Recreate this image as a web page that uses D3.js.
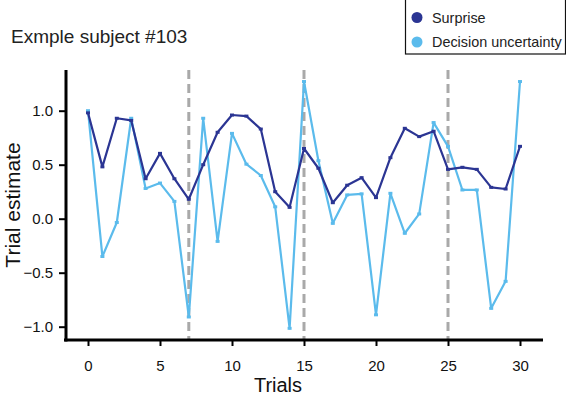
<!DOCTYPE html>
<html lang="en">
<head>
  <meta charset="UTF-8">
  <title>Exmple subject #103</title>
  <script src="https://d3js.org/d3.v7.min.js"></script>
  <style>
    body { margin: 0; background: #fff; }
    svg { display: block; font-family: "Liberation Sans", Arial, sans-serif; }
  </style>
</head>
<body>
  <svg width="566" height="398"></svg>
  <script>
    const trials = d3.range(0, 31);
    const surprise = [0.98, 0.48, 0.93, 0.91, 0.37, 0.605, 0.37, 0.18, 0.50, 0.80,
      0.96, 0.95, 0.83, 0.25, 0.105, 0.65, 0.467, 0.148, 0.31, 0.38,
      0.195, 0.565, 0.837, 0.76, 0.81, 0.457, 0.476, 0.457, 0.29, 0.275, 0.67];
    const uncertainty = [1.0, -0.35, -0.035, 0.93, 0.28, 0.33, 0.16, -0.91, 0.93, -0.21,
      0.79, 0.505, 0.40, 0.11, -1.015, 1.27, 0.537, -0.043, 0.22, 0.23,
      -0.89, 0.235, -0.135, 0.044, 0.89, 0.67, 0.266, 0.266, -0.83, -0.58, 1.27];
    const changePoints = [7, 15, 25];
    const xTicks = [0, 5, 10, 15, 20, 25, 30];
    const yTicks = [-1.0, -0.5, 0.0, 0.5, 1.0];

    const colors = { surprise: "#2b3593", uncertainty: "#5bbbec" };

    const svg = d3.select("svg");

    const x = d3.scaleLinear().domain([0, 30]).range([88, 520]);
    const y = d3.scaleLinear().domain([-1, 1]).range([326.7, 110.7]);

    // change point markers
    svg.selectAll(".cp")
      .data(changePoints)
      .enter().append("line")
      .attr("x1", d => x(d)).attr("x2", d => x(d))
      .attr("y1", 70).attr("y2", 340)
      .attr("stroke", "#a9a9a9")
      .attr("stroke-width", 3)
      .attr("stroke-dasharray", "9,5");

    const line = d3.line()
      .x((d, i) => x(trials[i]))
      .y(d => y(d));

    function drawSeries(values, color) {
      svg.append("path")
        .datum(values)
        .attr("fill", "none")
        .attr("stroke", color)
        .attr("stroke-width", 2.2)
        .attr("stroke-linejoin", "round")
        .attr("d", line);
      svg.append("g").selectAll("rect")
        .data(values)
        .enter().append("rect")
        .attr("x", (d, i) => x(trials[i]) - 2)
        .attr("y", d => y(d) - 1.5)
        .attr("width", 4)
        .attr("height", 3)
        .attr("fill", color);
    }

    drawSeries(uncertainty, colors.uncertainty);
    drawSeries(surprise, colors.surprise);

    // axes
    const gx = svg.append("g").attr("transform", "translate(0,340)")
      .call(d3.axisBottom(x).tickValues(xTicks).tickSize(6).tickPadding(14));
    gx.select(".domain").remove();
    gx.append("line").attr("x1", 64).attr("x2", 543)
      .attr("stroke", "#000").attr("stroke-width", 3);
    gx.selectAll(".tick line").attr("stroke-width", 2);
    gx.selectAll(".tick text").attr("font-size", 15).attr("fill", "#111")
      .attr("font-family", "Liberation Sans, Arial, sans-serif");

    const gy = svg.append("g").attr("transform", "translate(66,0)")
      .call(d3.axisLeft(y).tickValues(yTicks).tickFormat(d3.format(".1f")).tickSize(7).tickPadding(6));
    gy.select(".domain").remove();
    gy.append("line").attr("y1", 70).attr("y2", 341.5)
      .attr("stroke", "#000").attr("stroke-width", 3);
    gy.selectAll(".tick line").attr("stroke-width", 2);
    gy.selectAll(".tick text").attr("font-size", 15).attr("fill", "#111")
      .attr("font-family", "Liberation Sans, Arial, sans-serif");

    // labels
    svg.append("text")
      .attr("x", 278).attr("y", 392)
      .attr("text-anchor", "middle")
      .attr("font-size", 20).attr("fill", "#111")
      .text("Trials");

    svg.append("text")
      .attr("transform", "translate(20,205) rotate(-90)")
      .attr("text-anchor", "middle")
      .attr("font-size", 21).attr("fill", "#111")
      .text("Trial estimate");

    svg.append("text")
      .attr("x", 11).attr("y", 43)
      .attr("font-size", 19).attr("fill", "#222")
      .text("Exmple subject #103");

    // legend
    const legend = svg.append("g");
    legend.append("rect")
      .attr("x", 405.5).attr("y", -1).attr("width", 160).attr("height", 55)
      .attr("fill", "#fff").attr("stroke", "#111").attr("stroke-width", 1.2);
    const items = [["Surprise", colors.surprise], ["Decision uncertainty", colors.uncertainty]];
    legend.selectAll(".item")
      .data(items)
      .enter().append("g")
      .attr("transform", (d, i) => `translate(417,${17.5 + i * 24.5})`)
      .each(function(d) {
        const g = d3.select(this);
        g.append("circle").attr("r", 5.5).attr("fill", d[1]);
        g.append("text").attr("x", 15).attr("y", 5)
          .attr("font-size", 14.4).attr("fill", "#222").text(d[0]);
      });
  </script>
</body>
</html>
